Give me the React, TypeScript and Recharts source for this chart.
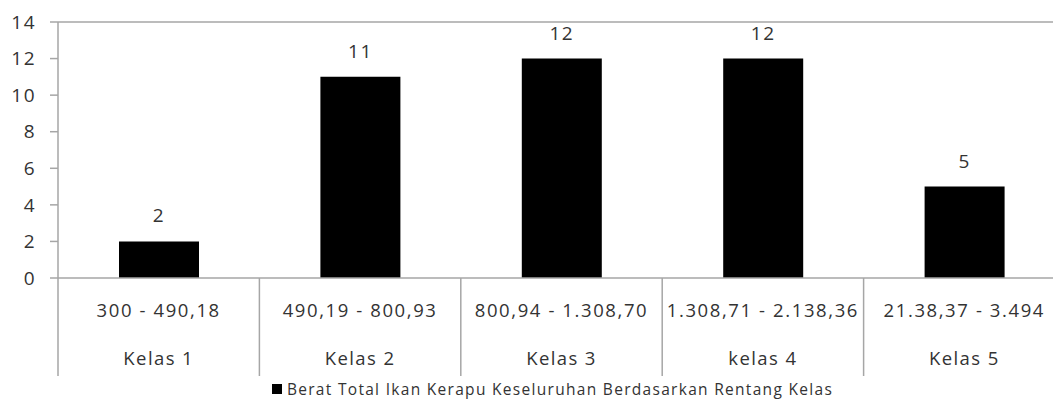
import React from 'react';
import { BarChart, Bar, XAxis, YAxis, LabelList, ReferenceLine, Legend } from 'recharts';

const kelas = ['Kelas 1', 'Kelas 2', 'Kelas 3', 'kelas 4', 'Kelas 5'];
const rentang = ['300 - 490,18', '490,19 - 800,93', '800,94 - 1.308,70', '1.308,71 - 2.138,36', '21.38,37 - 3.494'];
const jumlah = [2, 11, 12, 12, 5];
const yTicks = [0, 2, 4, 6, 8, 10, 12, 14];
const seriesName = 'Berat Total Ikan Kerapu Keseluruhan Berdasarkan Rentang Kelas';

const data = kelas.map((k, i) => ({ kelas: k, rentang: rentang[i], jumlah: jumlah[i] }));

const FONT = '"Open Sans", Lato, sans-serif';
const AXIS = '#a6a6a6';
const TEXT = '#333333';

const CategoryTick = (props: any) => {
  const { x, y, payload, index, width } = props;
  const band = width / data.length;
  const row = data[index];
  return (
    <g>
      <text x={x} y={y + 39} textAnchor="middle" fill={TEXT} fontSize={18.5} letterSpacing={1.6} fontFamily={FONT}>
        {row ? row.rentang : payload.value}
      </text>
      <text x={x} y={y + 87} textAnchor="middle" fill={TEXT} fontSize={18.5} letterSpacing={1.4} fontFamily={FONT}>
        {payload.value}
      </text>
      {index === 0 && <line x1={x - band / 2} x2={x - band / 2} y1={y} y2={y + 98} stroke={AXIS} strokeWidth={1.5} />}
      {index < data.length - 1 && <line x1={x + band / 2} x2={x + band / 2} y1={y} y2={y + 98} stroke={AXIS} strokeWidth={1.5} />}
    </g>
  );
};

const LegendBox = () => (
  <div style={{ display: 'flex', alignItems: 'center', justifyContent: 'center', fontFamily: FONT, fontSize: 15.5, letterSpacing: 1.3, color: TEXT, paddingLeft: 40 }}>
    <span style={{ width: 10, height: 10, background: '#000', display: 'inline-block', marginRight: 5 }} />
    <span>{seriesName}</span>
  </div>
);

export default function App() {
  return (
    <div style={{ position: 'fixed', left: 0, top: 0, width: 1053, height: 401, overflow: 'hidden', background: '#fff' }}>
      <BarChart width={1080} height={401} data={data} margin={{ top: 22, right: 15, left: 0, bottom: 1 }}>
        <ReferenceLine y={14} stroke={AXIS} strokeWidth={1.5} />
        <YAxis
          domain={[0, 14]}
          ticks={yTicks}
          width={58}
          axisLine={{ stroke: AXIS, strokeWidth: 1.5 }}
          tickLine={{ stroke: AXIS, strokeWidth: 1.5 }}
          tickSize={8}
          tickMargin={14}
          tick={{ fill: TEXT, fontSize: 19, letterSpacing: 1.5, fontFamily: FONT }}
        />
        <XAxis
          dataKey="kelas"
          height={100}
          interval={0}
          tickLine={false}
          tickSize={0}
          tickMargin={0}
          axisLine={{ stroke: AXIS, strokeWidth: 1.5 }}
          tick={<CategoryTick />}
        />
        <Legend verticalAlign="bottom" height={22} content={<LegendBox />} />
        <Bar dataKey="jumlah" name={seriesName} fill="#000" barSize={80} isAnimationActive={false}>
          <LabelList dataKey="jumlah" position="top" offset={19} fill={TEXT} fontSize={19} letterSpacing={1.5} fontFamily={FONT} />
        </Bar>
      </BarChart>
    </div>
  );
}
